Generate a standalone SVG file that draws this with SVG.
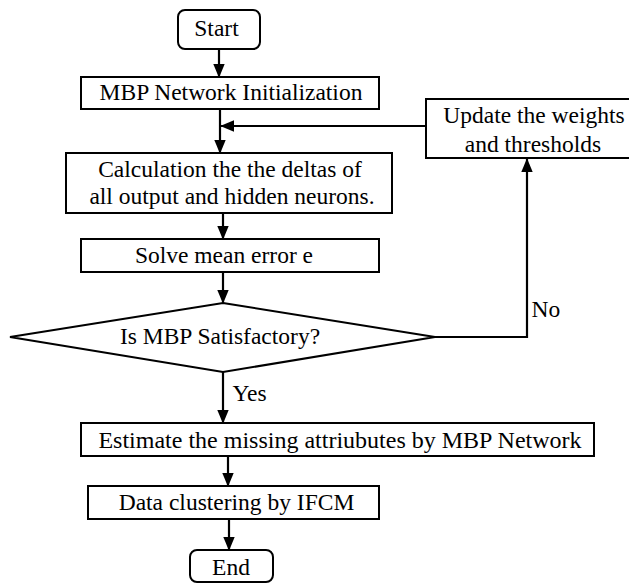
<svg xmlns="http://www.w3.org/2000/svg" width="629" height="584" viewBox="0 0 629 584">
<defs>
<marker id="ah" markerWidth="14" markerHeight="17" refX="16" refY="7" viewBox="0 0 17 14" orient="auto" markerUnits="userSpaceOnUse">
<path d="M0,0 L17,7 L0,14 Z" fill="#000"/>
</marker>
</defs>
<rect width="629" height="584" fill="#fff"/>
<g fill="#fff" stroke="#000" stroke-width="2">
<g id="start"><rect x="178" y="10" width="82" height="39" rx="7"/><text style="font-family:'Liberation Serif';font-size:23.5px;fill:#000;stroke:none" text-anchor="middle" x="216.5" y="36">Start</text></g>
<g id="init"><rect x="81" y="77" width="298" height="32"/><text style="font-family:'Liberation Serif';font-size:23.5px;fill:#000;stroke:none" text-anchor="middle" x="231" y="100">MBP Network Initialization</text></g>
<g id="update"><rect x="426" y="99" width="210" height="59"/><text style="font-family:'Liberation Serif';font-size:23.5px;fill:#000;stroke:none" text-anchor="middle" x="534" y="123">Update the weights</text><text style="font-family:'Liberation Serif';font-size:23.5px;fill:#000;stroke:none" text-anchor="middle" x="533" y="152">and thresholds</text></g>
<g id="calc"><rect x="66" y="153" width="326" height="60"/><text style="font-family:'Liberation Serif';font-size:23.5px;fill:#000;stroke:none" text-anchor="middle" x="230" y="177">Calculation the the deltas of</text><text style="font-family:'Liberation Serif';font-size:23.5px;fill:#000;stroke:none" text-anchor="middle" x="232" y="204">all output and hidden neurons.</text></g>
<g id="solve"><rect x="81" y="239" width="298" height="33"/><text style="font-family:'Liberation Serif';font-size:23.5px;fill:#000;stroke:none" text-anchor="middle" x="224" y="263">Solve mean error e</text></g>
<g id="decision"><polygon points="223,303 435,337 223,372 10,337"/><text style="font-family:'Liberation Serif';font-size:23.5px;fill:#000;stroke:none" text-anchor="middle" x="220" y="344">Is MBP Satisfactory?</text></g>
<g id="estimate"><rect x="81" y="423" width="513" height="33"/><text style="font-family:'Liberation Serif';font-size:24px;fill:#000;stroke:none" text-anchor="middle" x="340" y="448">Estimate the missing attriubutes by MBP Network</text></g>
<g id="cluster"><rect x="88" y="486" width="291" height="33"/><text style="font-family:'Liberation Serif';font-size:23.5px;fill:#000;stroke:none" text-anchor="middle" x="236.5" y="510">Data clustering by IFCM</text></g>
<g id="end"><rect x="190" y="550" width="83" height="32" rx="7"/><text style="font-family:'Liberation Serif';font-size:23.5px;fill:#000;stroke:none" text-anchor="middle" x="231" y="575">End</text></g>
</g>
<g id="connectors" fill="none" stroke="#000" stroke-width="2.2">
<line x1="219" y1="49" x2="219" y2="77" marker-end="url(#ah)"/>
<line x1="220" y1="109" x2="220" y2="153" marker-end="url(#ah)"/>
<line x1="426" y1="126" x2="221" y2="126" marker-end="url(#ah)"/>
<line x1="223" y1="213" x2="223" y2="239" marker-end="url(#ah)"/>
<line x1="223" y1="272" x2="223" y2="303" marker-end="url(#ah)"/>
<polyline points="435,337 527,337 527,159" marker-end="url(#ah)"/>
<line x1="223" y1="372" x2="223" y2="423" marker-end="url(#ah)"/>
<line x1="228" y1="456" x2="228" y2="486" marker-end="url(#ah)"/>
<line x1="229" y1="519" x2="229" y2="550" marker-end="url(#ah)"/>
<text style="font-family:'Liberation Serif';font-size:23.5px;fill:#000;stroke:none" x="531.5" y="317">No</text>
<text style="font-family:'Liberation Serif';font-size:23.5px;fill:#000;stroke:none" x="232.5" y="401">Yes</text>
</g>
</svg>
